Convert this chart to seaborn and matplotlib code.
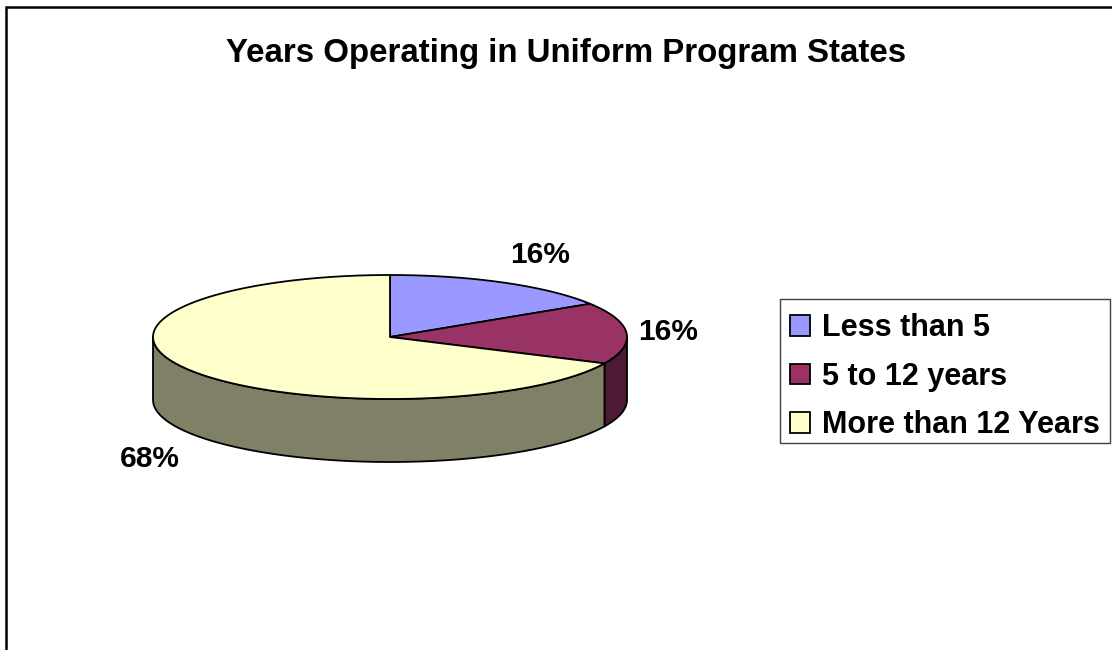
import numpy as np
import matplotlib
matplotlib.use("Agg")
import matplotlib.pyplot as plt
from matplotlib.patches import Polygon, Patch, Rectangle
import seaborn as sns

# Data
categories = ["Less than 5", "5 to 12 years", "More than 12 Years"]
shares = [16, 16, 68]
title = "Years Operating in Uniform Program States"

sns.set_theme(style="white")
plt.rcParams["font.family"] = ["Liberation Sans", "DejaVu Sans"]
plt.rcParams["text.color"] = "black"

top_colors = sns.color_palette(["#9999FF", "#993366", "#FFFFCC"])
side_colors = [tuple(c * 0.5 for c in col) for col in top_colors]

W, H = 1112, 650
fig = plt.figure(figsize=(W / 100, H / 100), dpi=100)
ax = fig.add_axes([0, 0, 1, 1])
ax.set_xlim(0, W)
ax.set_ylim(H, 0)
ax.axis("off")

# Pie geometry (pixel space, y pointing down)
cx, cy = 390, 337
rx, ry = 237, 62
depth = 63
lw = 1.3


def ell(theta_deg, dy=0.0):
    t = np.radians(theta_deg)
    return cx + rx * np.cos(t), cy - ry * np.sin(t) + dy


# slice angle ranges, starting at 12 o'clock and running clockwise
total = float(sum(shares))
bounds = []
start = 90.0
for v in shares:
    end = start - 360.0 * v / total
    bounds.append((start, end))
    start = end

# Side walls: only the front half (angles between 180 and 360 deg) is visible
for (a0, a1), sc in zip(bounds, side_colors):
    for shift in (0.0, -360.0, 360.0):
        seg_hi = min(a0 + shift, 360.0)
        seg_lo = max(a1 + shift, 180.0)
        if seg_hi > seg_lo:
            th = np.linspace(seg_hi, seg_lo, 80)
            tx, ty = ell(th)
            bx, by = ell(th[::-1], depth)
            pts = np.column_stack([np.r_[tx, bx], np.r_[ty, by]])
            ax.add_patch(Polygon(pts, closed=True, facecolor=sc,
                                 edgecolor="black", linewidth=lw,
                                 joinstyle="round", zorder=1))

# Top face slices
for (a0, a1), tc in zip(bounds, top_colors):
    th = np.linspace(a0, a1, 120)
    tx, ty = ell(th)
    pts = np.column_stack([np.r_[cx, tx], np.r_[cy, ty]])
    ax.add_patch(Polygon(pts, closed=True, facecolor=tc,
                         edgecolor="black", linewidth=lw,
                         joinstyle="round", zorder=2))

# Percentage labels placed just outside each slice's mid point
for (a0, a1), v in zip(bounds, shares):
    mid = (a0 + a1) / 2.0
    t = np.radians(mid)
    c, s = np.cos(t), np.sin(t)
    px, py = ell(mid, depth if s < 0 else 0.0)
    lx = px + 12 * c
    ly = py - 22 * s
    ha = "left" if c > 0.3 else ("right" if c < -0.3 else "center")
    va = "baseline" if s > 0.3 else ("top" if s < -0.3 else "center")
    ax.text(lx, ly, f"{v / total * 100:.0f}%", ha=ha, va=va,
            fontsize=21.5, fontweight="bold", color="black", zorder=3)

ax.text(566, 62, title, ha="center", va="baseline", fontsize=23.8,
        fontweight="bold", color="black")

# Legend entries (frame drawn separately as a plain box)
handles = [Patch(facecolor=c, edgecolor="black", linewidth=1.3) for c in top_colors]
leg = ax.legend(handles, categories, loc="upper left",
                bbox_to_anchor=(779.5 / W, 1 - 303 / H), bbox_transform=fig.transFigure,
                frameon=False, prop={"weight": "bold", "size": 22},
                handlelength=0.65, handleheight=0.65, handletextpad=0.39,
                labelspacing=0.6, borderpad=0.34, borderaxespad=0)
for txt in leg.get_texts():
    txt.set_color("black")
ax.add_patch(Rectangle((779.5, 299), 330.5, 144, fill=False,
                       edgecolor="#404040", linewidth=1.0, zorder=4))

# Chart area frame (runs past the right and bottom edges)
fig.patches.append(Rectangle((6 / W, -0.05), 1.1, 1.05 - 7 / H,
                             transform=fig.transFigure, fill=False,
                             edgecolor="black", linewidth=1.8))

fig.savefig("out.png", dpi=100, facecolor="white")
